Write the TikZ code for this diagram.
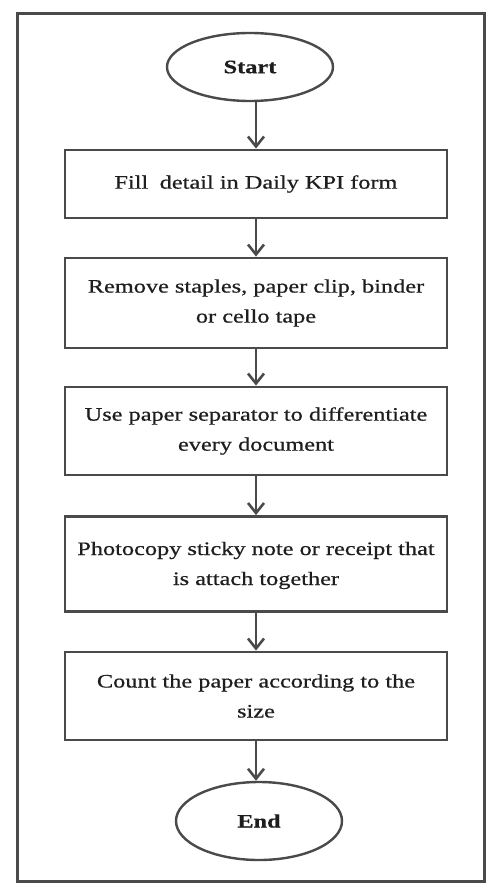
\documentclass[tikz,border=0pt]{standalone}
\usepackage{fontspec}
\setmainfont{Liberation Serif}[FakeStretch=1.28,FakeBold=0.6]
\usetikzlibrary{arrows.meta,shapes.geometric}
\definecolor{ink}{HTML}{4A4A4A}
\definecolor{txt}{HTML}{1E1E1E}
\begin{document}
\begin{tikzpicture}[x=1pt,y=-1pt,
  line width=2.6pt,
  every node/.style={text=txt,font=\fontsize{19}{30}\selectfont},
  terminal/.style={ellipse,draw=ink,line width=2.4pt,minimum width=166pt,minimum height=68pt,inner sep=0pt,font=\fontsize{19}{30}\selectfont\bfseries},
  stepbox/.style={rectangle,draw=ink,line width=2.8pt,minimum width=382pt,align=center,inner sep=0pt},
  flow/.style={draw=ink,line width=2.6pt,-{Straight Barb[length=10pt,width=16pt,line width=2.6pt]}}]
  \useasboundingbox (0,0) rectangle (490,885);
  \fill[white] (0,0) rectangle (490,885);
  % outer frame
  \draw[ink,line width=3pt] (17,14) rectangle (484,881);
  % flow steps
  \node[terminal] (start) at (250,67) {Start};
  \node[stepbox,minimum height=68pt] (s1) at (256,184) {\raisebox{4pt}{Fill\hspace{0.6em}detail in Daily KPI form}};
  \node[stepbox,minimum height=90pt] (s2) at (256,303) {Remove staples, paper clip, binder\\or cello tape};
  \node[stepbox,minimum height=88pt] (s3) at (256,431) {Use paper separator to differentiate\\every document};
  \node[stepbox,minimum height=95pt] (s4) at (256,564) {\raisebox{14pt}{\begin{tabular}{@{}c@{}}Photocopy sticky note or receipt that\\is attach together\end{tabular}}};
  \node[stepbox,minimum height=88pt] (s5) at (256,696) {Count the paper according to the\\size};
  \node[terminal,minimum height=78pt] (end) at (259,821) {End};
  % connectors
  \draw[flow] (start.south -| s1.north) -- (s1.north);
  \draw[flow] (s1) -- (s2);
  \draw[flow] (s2) -- (s3);
  \draw[flow] (s3) -- (s4);
  \draw[flow] (s4) -- (s5);
  \draw[flow] (s5.south) -- (s5.south |- end.north);
\end{tikzpicture}
\end{document}
